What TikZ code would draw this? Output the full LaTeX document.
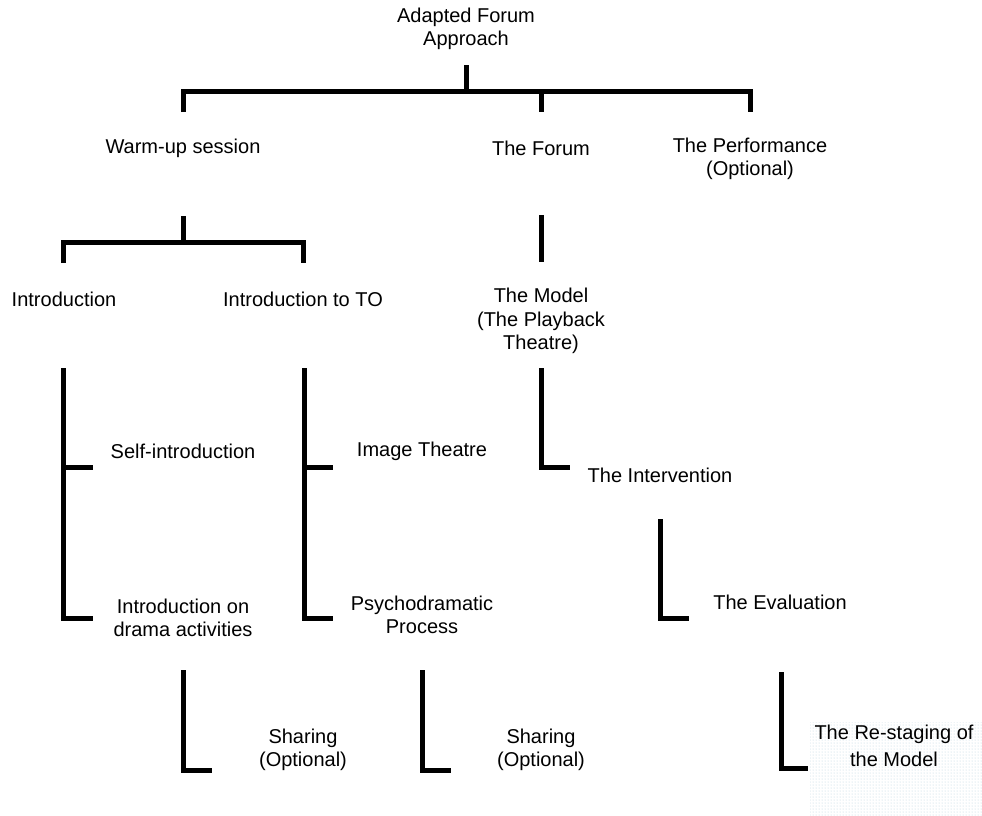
\documentclass[tikz,border=0pt]{standalone}
\usepackage{fontspec}
\setmainfont{Liberation Sans}
\usetikzlibrary{patterns}
\definecolor{dotcol}{RGB}{185,210,222}
\tikzset{
  lbl/.style={inner sep=0pt, align=center, font=\fontsize{20}{23.5}\selectfont},
  bar/.style={line width=5pt, line join=miter, line cap=butt, black},
}
\begin{document}
\begin{tikzpicture}[x=1pt,y=-1pt]
\useasboundingbox (0,0) rectangle (982,815);
\fill[white] (0,0) rectangle (982,815);
\fill[pattern=dots, pattern color=dotcol] (810,722) rectangle (982,815);

% labels
\node[lbl] (root) at (466,29) {Adapted Forum\\Approach};
\node[lbl] (warm) at (183,148) {Warm-up session};
\node[lbl] (forum) at (541,148) {The Forum};
\node[lbl] (perf) at (750,159) {The Performance\\(Optional)};
\node[lbl] (intro) at (64,299) {Introduction};
\node[lbl] (introTO) at (303,299) {Introduction to TO};
\node[lbl] (model) at (541,321) {The Model\\(The Playback\\Theatre)};
\node[lbl] (self) at (183,451) {Self-introduction};
\node[lbl] (drama) at (183,618) {Introduction on\\drama activities};
\node[lbl] (image) at (422,451) {Image Theatre};
\node[lbl] (psycho) at (422,615) {Psychodramatic\\Process};
\node[lbl] (interv) at (660,475) {The Intervention};
\node[lbl] (eval) at (780,602) {The Evaluation};
\node[lbl] (share1) at (303,750) {Sharing\\(Optional)};
\node[lbl] (share2) at (541,750) {Sharing\\(Optional)};
\node[lbl, font=\fontsize{20}{27.5}\selectfont] (restage) at (894,746) {The Re-staging of\\the Model};

% connector coordinates
\coordinate (r0) at (466,65);
\coordinate (r1) at (466,91);
\coordinate (wA) at (183,112);
\coordinate (wB) at (183,91);
\coordinate (pB) at (750,91);
\coordinate (pA) at (750,112);
\coordinate (fB) at (541,91);
\coordinate (fA) at (541,112);

\coordinate (w0) at (183,216);
\coordinate (w1) at (183,242);
\coordinate (iA) at (63,263);
\coordinate (iB) at (63,242);
\coordinate (tB) at (303,242);
\coordinate (tA) at (303,263);

\coordinate (f0) at (541,215);
\coordinate (f1) at (541,262);

\coordinate (i0) at (63,368);
\coordinate (i1) at (63,618);
\coordinate (i2) at (93,618);
\coordinate (iM) at (63,467);
\coordinate (iM2) at (93,467);

\coordinate (t0) at (304,368);
\coordinate (t1) at (304,618);
\coordinate (t2) at (333,618);
\coordinate (tM) at (304,467);
\coordinate (tM2) at (333,467);

\coordinate (m0) at (541,368);
\coordinate (m1) at (541,467);
\coordinate (m2) at (570,467);

\coordinate (v0) at (660,519);
\coordinate (v1) at (660,618);
\coordinate (v2) at (689,618);

\coordinate (s0) at (183,670);
\coordinate (s1) at (183,770);
\coordinate (s2) at (212,770);

\coordinate (q0) at (422,670);
\coordinate (q1) at (422,770);
\coordinate (q2) at (451,770);

\coordinate (e0) at (781,672);
\coordinate (e1) at (781,768);
\coordinate (e2) at (808,768);

% connectors
\draw[bar] (r0) -- (r1);
\draw[bar] (wA) -- (wB) -- (pB) -- (pA);
\draw[bar] (fB) -- (fA);

\draw[bar] (w0) -- (w1);
\draw[bar] (iA) -- (iB) -- (tB) -- (tA);

\draw[bar] (f0) -- (f1);

\draw[bar] (i0) -- (i1) -- (i2);
\draw[bar] (iM) -- (iM2);
\draw[bar] (t0) -- (t1) -- (t2);
\draw[bar] (tM) -- (tM2);

\draw[bar] (m0) -- (m1) -- (m2);
\draw[bar] (v0) -- (v1) -- (v2);

\draw[bar] (s0) -- (s1) -- (s2);
\draw[bar] (q0) -- (q1) -- (q2);
\draw[bar] (e0) -- (e1) -- (e2);
\end{tikzpicture}
\end{document}
